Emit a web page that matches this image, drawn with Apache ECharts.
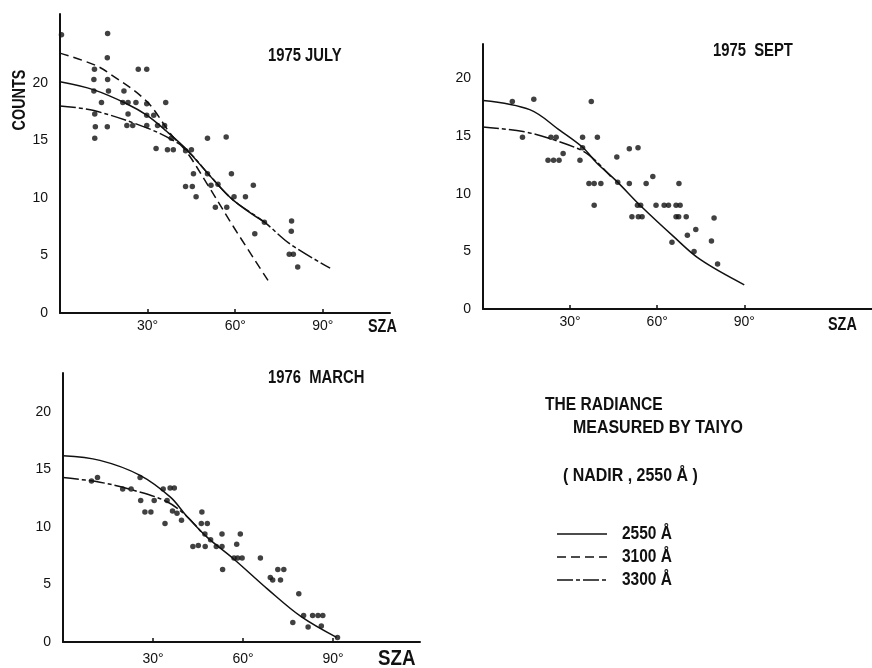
<!DOCTYPE html>
<html>
<head>
<meta charset="utf-8">
<script src="https://cdn.jsdelivr.net/npm/echarts@6/dist/echarts.min.js"></script>
<style>
html,body{margin:0;padding:0;background:#fff;}
#chart{width:872px;height:668px;}
</style>
</head>
<body>
<div id="chart"></div>
<script>
// ---------- DATA ----------
const xTickValues = [30, 60, 90];
const yTickValues = [0, 5, 10, 15, 20];

const panelTitles = ['1975 JULY', '1975  SEPT', '1976  MARCH'];
const legendNames = ['2550 Å', '3100 Å', '3300 Å'];
const noteLines = ['THE RADIANCE', 'MEASURED BY TAIYO', '( NADIR , 2550 Å )'];

// 1975 July: measured counts [SZA deg, counts]
const julyPoints = [[0.5,24.2],[16.3,24.3],[16.2,22.2],[11.8,21.2],[11.6,20.3],[16.3,20.3],[26.8,21.2],[29.7,21.2],
 [11.6,19.3],[16.6,19.3],[21.9,19.3],[14.2,18.3],[21.5,18.3],[23.3,18.3],[26.0,18.3],[29.7,18.2],[36.2,18.3],
 [11.9,17.3],[23.3,17.3],[29.7,17.2],[32.1,17.2],[12.1,16.2],[16.2,16.2],[22.9,16.3],[24.9,16.3],[29.7,16.3],
 [33.4,16.3],[35.8,16.3],[11.9,15.2],[38.1,15.2],[50.5,15.2],[56.9,15.3],[32.9,14.3],[36.8,14.2],[38.8,14.2],
 [43.0,14.1],[45.0,14.2],[45.7,12.1],[50.5,12.1],[58.7,12.1],[43.0,11.0],[45.3,11.0],[51.7,11.1],[54.1,11.2],
 [66.2,11.1],[46.6,10.1],[59.6,10.1],[63.5,10.1],[53.2,9.2],[57.1,9.2],[66.7,6.9],[70.0,7.9],[79.3,8.0],
 [79.2,7.1],[78.5,5.1],[79.9,5.1],[81.4,4.0]];
const julyCurve2550 = [[0,20.1],[11.6,19.4],[22.8,18.2],[29.7,17.2],[36.5,15.8],[43.4,14.2],[52.5,11.6],[59.4,9.8],[70,7.9]];
const julyCurve3100 = [[0,22.6],[11.6,21.6],[17.1,20.8],[29.7,18.4],[38.1,15.5],[43.4,14.0],[50.2,11.3],[59.4,7.5],[71.3,2.8]];
const julyCurve3300 = [[0,18.0],[11.6,17.6],[29.7,16.1],[38.8,15.0],[43.4,14.2],[52.5,11.6],[59.4,9.8],[70,7.9],[78.8,6.0],[92.5,3.9]];

// 1975 Sept
const septPoints = [[10.1,18.0],[17.5,18.2],[13.6,14.9],[22.4,12.9],[24.3,12.9],[26.2,12.9],[23.4,14.9],[25.2,14.9],
 [27.6,13.5],[34.3,14.9],[33.4,12.9],[34.3,14.0],[37.3,18.0],[39.4,14.9],[36.5,10.9],[38.3,10.9],[40.6,10.9],
 [38.3,9.0],[46.1,13.2],[46.4,11.0],[50.4,13.9],[53.4,14.0],[50.4,10.9],[56.2,10.9],[58.5,11.5],[51.3,8.0],
 [53.2,9.0],[54.3,9.0],[53.5,8.0],[54.8,8.0],[59.6,9.0],[62.4,9.0],[63.9,9.0],[66.5,9.0],[67.9,9.0],[66.5,8.0],
 [67.4,8.0],[70.0,8.0],[67.5,10.9],[65.1,5.8],[70.4,6.4],[73.3,6.9],[72.7,5.0],[78.7,5.9],[79.6,7.9],[80.8,3.9]];
const septCurve2550 = [[0,18.1],[16.1,17.3],[26.5,15.5],[34.5,14.0],[39.1,12.7],[46.0,11.1],[54.1,9.0],[65.6,6.3],[74.8,4.3],[90,2.1]];
const septCurve3300 = [[0,15.8],[13.8,15.4],[24.2,14.7],[34.5,13.7],[39.1,12.8],[44,11.5]];

// 1976 March
const marchPoints = [[11.5,14.3],[9.5,14.0],[19.9,13.3],[22.7,13.3],[25.7,14.3],[25.9,12.3],[27.3,11.3],[29.3,11.3],
 [30.4,12.3],[33.4,13.3],[35.7,13.4],[37.1,13.4],[34.0,10.3],[34.7,12.3],[36.5,11.4],[38.0,11.2],[39.5,10.6],
 [46.3,11.3],[46.1,10.3],[48.1,10.3],[47.3,9.4],[43.3,8.3],[45.1,8.4],[47.4,8.3],[49.2,8.9],[51.1,8.3],[53.0,9.4],
 [53.0,8.3],[53.2,6.3],[57.9,8.5],[57.0,7.3],[58.2,7.3],[59.7,7.3],[59.1,9.4],[65.8,7.3],[69.1,5.6],[69.9,5.4],
 [72.5,5.4],[71.6,6.3],[73.6,6.3],[78.6,4.2],[76.6,1.7],[80.2,2.3],[81.7,1.3],[83.2,2.3],[85.0,2.3],[86.6,2.3],
 [86.1,1.4],[91.5,0.4]];
const marchCurve2550 = [[0,16.2],[12.3,15.8],[25.7,14.5],[35.8,12.6],[41.4,10.9],[48.1,9.1],[57.0,7.2],[68.2,4.6],[79.4,2.2],[91.2,0.4]];
const marchCurve3300 = [[0,14.3],[12.3,13.9],[23.5,13.2],[34.7,12.2],[41.4,10.9],[46,9.6]];

// ---------- STYLE ----------
const INK = '#111';
const sans = '"Liberation Sans", Arial, sans-serif';
const dash3100 = [9, 5];
const dash3300 = [16, 3, 4, 3];
const SQUEEZE = 0.8;

const grids = [
  {left: 60, top: 14, width: 330, height: 299, xmax: 113, ymax: 26, xLabelMargin: 6},
  {left: 483, top: 44, width: 389, height: 265, xmax: 134, ymax: 23, xLabelMargin: 6},
  {left: 63, top: 373, width: 357, height: 269, xmax: 119, ymax: 23.4, xLabelMargin: 10}
];

const option = {
  animation: false,
  backgroundColor: '#fff',
  grid: grids.map(g => ({left: g.left, top: g.top, width: g.width, height: g.height, outerBoundsMode: 'none'})),
  xAxis: grids.map((g, i) => ({
    type: 'value', gridIndex: i, min: 0, max: g.xmax,
    splitLine: {show: false},
    axisLine: {lineStyle: {color: INK, width: 2}},
    axisTick: {show: true, inside: true, length: 4, customValues: xTickValues, lineStyle: {color: INK, width: 1.5}},
    axisLabel: {customValues: xTickValues, formatter: '{value}°', color: INK, fontSize: 14,
      fontFamily: sans, margin: g.xLabelMargin}
  })),
  yAxis: grids.map((g, i) => ({
    type: 'value', gridIndex: i, min: 0, max: g.ymax,
    splitLine: {show: false},
    axisLine: {show: true, lineStyle: {color: INK, width: 2}},
    axisTick: {show: false},
    axisLabel: {customValues: yTickValues, color: INK, fontSize: 14, fontFamily: sans, margin: 12}
  })),
  series: [],
  graphic: []
};

function scatter(data, i) {
  return {type: 'scatter', xAxisIndex: i, yAxisIndex: i, data: data, symbolSize: 5.5,
    itemStyle: {color: INK}, z: 3};
}
function curve(data, i, dash) {
  return {type: 'line', xAxisIndex: i, yAxisIndex: i, data: data, smooth: 0.35, showSymbol: false,
    lineStyle: {color: INK, width: 1.5, type: dash || 'solid'}, z: 2};
}

option.series.push(scatter(julyPoints, 0), curve(julyCurve2550, 0), curve(julyCurve3100, 0, dash3100), curve(julyCurve3300, 0, dash3300));
option.series.push(scatter(septPoints, 1), curve(septCurve2550, 1), curve(septCurve3300, 1, dash3300));
option.series.push(scatter(marchPoints, 2), curve(marchCurve2550, 2), curve(marchCurve3300, 2, dash3300));

// condensed bold text (scaled horizontally)
function txt(text, x, y, size, sq) {
  return {type: 'text', x: x, y: y, scaleX: sq || SQUEEZE, scaleY: 1,
    style: {text: text, fill: INK, font: 'bold ' + size + 'px ' + sans,
      textVerticalAlign: 'middle', textAlign: 'left'}};
}
const G = option.graphic;
G.push(txt(panelTitles[0], 268, 56, 19, 0.78));
G.push(txt(panelTitles[1], 713, 51, 19, 0.78));
G.push(txt(panelTitles[2], 268, 378, 19, 0.78));
G.push(txt('SZA', 368, 327, 18));
G.push(txt('SZA', 828, 325, 18));
G.push(txt('SZA', 378, 659, 22, 0.85));
G.push({type: 'text', x: 20, y: 100, rotation: Math.PI / 2, scaleX: SQUEEZE,
  style: {text: 'COUNTS', fill: INK, font: 'bold 18px ' + sans, textAlign: 'center', textVerticalAlign: 'middle'}});
G.push(txt(noteLines[0], 545, 405, 19, 0.82));
G.push(txt(noteLines[1], 573, 428, 19, 0.84));
G.push(txt(noteLines[2], 563, 476, 19, 0.84));

const legendY = [534, 557, 580];
const legendDash = ['solid', dash3100, dash3300];
legendY.forEach((y, k) => {
  G.push({type: 'line', shape: {x1: 557, y1: y, x2: 607, y2: y},
    style: {stroke: INK, lineWidth: 1.5, lineDash: legendDash[k] === 'solid' ? null : legendDash[k]}});
  G.push(txt(legendNames[k], 622, y, 18, 0.86));
});

const chart = echarts.init(document.getElementById('chart'), null, {renderer: 'canvas'});
chart.setOption(option);
</script>
</body>
</html>
